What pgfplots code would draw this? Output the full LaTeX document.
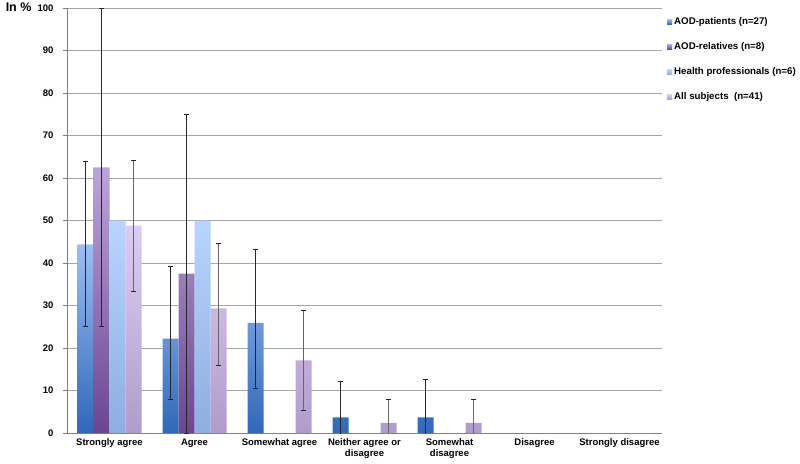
\documentclass[border=0pt]{standalone}
\usepackage{pgfplots}
\pgfplotsset{compat=1.18}
\usepackage{fontspec}
\setmainfont{Liberation Sans}
\definecolor{patB}{HTML}{3068B8}
\definecolor{patT}{HTML}{9CBEF2}
\definecolor{relB}{HTML}{6A4692}
\definecolor{relT}{HTML}{BCA4D8}
\definecolor{heaB}{HTML}{8EAEE0}
\definecolor{heaT}{HTML}{B8D4FE}
\definecolor{allB}{HTML}{B09CCA}
\definecolor{allT}{HTML}{DCCCF2}
\begin{document}
\begin{tikzpicture}[font=\fontsize{9.5}{11.5}\selectfont\bfseries]
\begin{axis}[
  name=ax,
  scale only axis, width=595pt, height=425pt,
  ybar=0pt, bar width=16pt,
  xmin=-0.5, xmax=6.5, ymin=0, ymax=100,
  xtick={0,...,6},
  xticklabels={Strongly agree, Agree, Somewhat agree, {Neither agree or\\disagree}, {Somewhat\\disagree}, Disagree, Strongly disagree},
  xticklabel style={align=center, yshift=2pt},
  major x tick style={draw=none},
  extra x ticks={-0.5,0.5,1.5,2.5,3.5,4.5,5.5,6.5},
  extra x tick labels={},
  extra x tick style={tick style={draw=gray, line width=0.6pt}},
  xtick pos=bottom, xtick align=outside,
  ytick={0,10,...,100},
  ytick pos=left, ytick align=outside,
  y tick style={draw=gray, line width=0.6pt}, major tick length=4pt,
  yticklabel style={xshift=-6pt},
  /pgf/number format/assume math mode=true,
  ymajorgrids, grid style={draw=gray!70, line width=0.6pt},
  axis x line*=bottom, axis y line*=left,
  axis line style={draw=gray, line width=0.6pt, -},
  legend style={at={(rel axis cs:1,0.985)}, anchor=north west, draw=none, fill=none,
    row sep=12.5pt, cells={anchor=west}, xshift=4pt, inner sep=1pt,
    font=\fontsize{9.7}{11.5}\selectfont\bfseries},
  legend image code/.code={\fill[#1] (0pt,-2.5pt) rectangle (5pt,2.5pt);},
  error bars/y dir=both, error bars/y explicit,
  error bars/error bar style={black!85, line width=0.8pt},
  error bars/error mark options={rotate=90, mark size=2.2pt, black!85, line width=0.8pt},
  clip=true,
]
\addplot[draw=none, bottom color=patB, top color=patT] coordinates {
  (0,44.4) += (0,19.6) -= (0,19.4)
  (1,22.2) += (0,16.9) -= (0,14.3)
  (2,25.9) += (0,17.4) -= (0,15.4)
  (3,3.7)  += (0,8.4)  -= (0,8.4)
  (4,3.7)  += (0,8.8)  -= (0,8.8)
};
\addlegendentry{AOD-patients (n=27)}
\addplot[draw=none, bottom color=relB, top color=relT, bar shift=-8pt] coordinates {
  (0,62.5) += (0,37.5) -= (0,37.5)
  (1,37.5) += (0,37.5) -= (0,37.5)
};
\addlegendentry{AOD-relatives (n=8)}
\addplot[draw=none, bottom color=heaB, top color=heaT, bar shift=8pt, error bars/y dir=none] coordinates {
  (0,50) (1,50)
};
\addlegendentry{Health professionals (n=6)}
\addplot[draw=none, bottom color=allB, top color=allT, bar shift=24pt,
  error bars/error bar style={gray!80!black}] coordinates {
  (0,48.8) += (0,15.4) -= (0,15.4)
  (1,29.3) += (0,15.2) -= (0,13.3)
  (2,17.1) += (0,11.8) -= (0,11.8)
  (3,2.4)  += (0,5.4)  -= (0,5.4)
  (4,2.4)  += (0,5.4)  -= (0,5.4)
};
\addlegendentry{All subjects\ \ (n=41)}
\end{axis}
\node[anchor=east, font=\fontsize{12.5}{14}\selectfont\bfseries] at ([xshift=-32pt,yshift=1pt]ax.north west) {In \%};
\pgfresetboundingbox
\path[use as bounding box] ([xshift=-67pt,yshift=8pt]ax.north west) rectangle ([xshift=138pt,yshift=-30pt]ax.south east);
\end{tikzpicture}
\end{document}
